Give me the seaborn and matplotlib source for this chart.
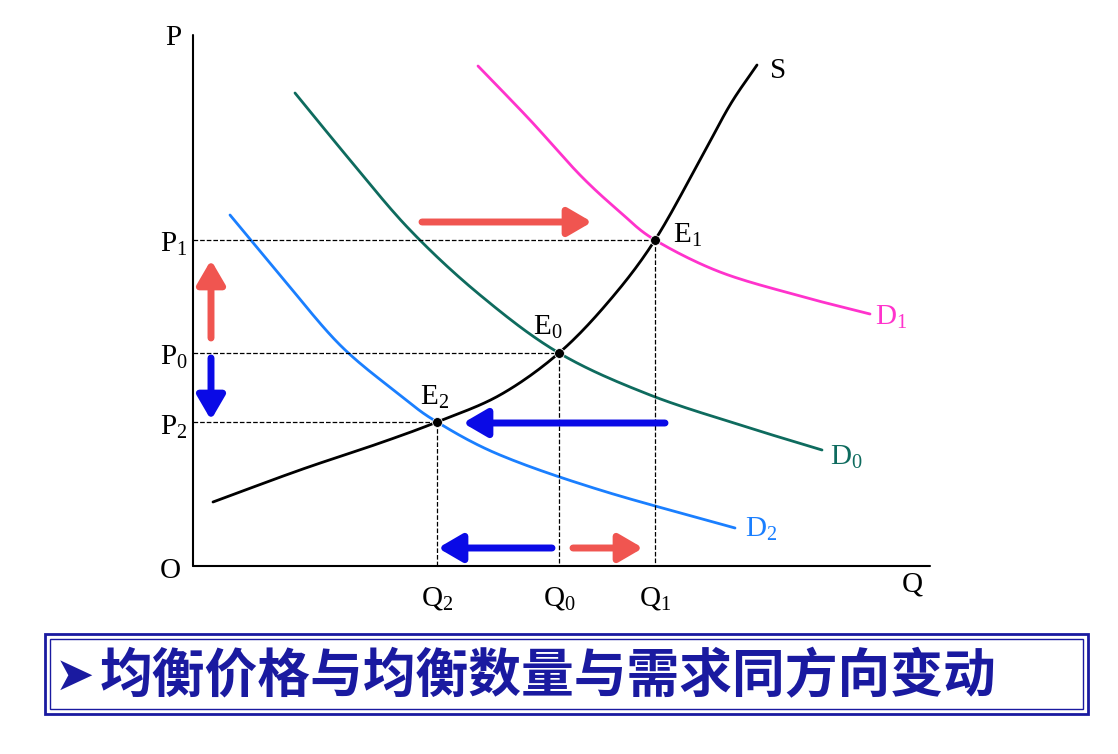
import numpy as np
import pandas as pd
import matplotlib
matplotlib.use("Agg")
import matplotlib.pyplot as plt
import seaborn as sns
from matplotlib.patches import Rectangle

# curve points (pixel space, y downward)
s_x = [213, 300, 380, 437, 500, 559, 610, 655, 700, 730, 757]
s_y = [502, 470, 443, 422, 395, 353, 300, 240, 160, 105, 65]
d0_x = [295, 350, 410, 480, 559, 650, 750, 822]
d0_y = [93, 160, 230, 295, 353, 395, 428, 450]
d1_x = [478, 530, 580, 620, 655, 720, 800, 870]
d1_y = [66, 120, 175, 212, 240, 272, 296, 314]
d2_x = [230, 280, 340, 400, 437, 500, 600, 735]
d2_y = [215, 275, 345, 395, 422, 455, 490, 528]

eq_names = ["E0", "E1", "E2"]
eq_x = [559, 655, 437]
eq_y = [353, 240, 422]
origin = (193, 566)


def smooth(xs, ys, n=20):
    p = np.column_stack([xs, ys]).astype(float)
    p = np.vstack([2 * p[0] - p[1], p, 2 * p[-1] - p[-2]])
    out = []
    for i in range(1, len(p) - 2):
        p0, p1, p2, p3 = p[i - 1], p[i], p[i + 1], p[i + 2]
        for t in np.linspace(0, 1, n, endpoint=False):
            out.append(0.5 * (2 * p1 + (-p0 + p2) * t + (2 * p0 - 5 * p1 + 4 * p2 - p3) * t**2
                              + (-p0 + 3 * p1 - 3 * p2 + p3) * t**3))
    out.append(p[-2])
    out = np.array(out)
    return pd.DataFrame({"x": out[:, 0], "y": out[:, 1]})


sns.set_theme(style="white")
plt.rcParams["font.family"] = ["Liberation Serif", "DejaVu Serif"]
plt.rcParams["text.color"] = "black"
plt.rcParams["mathtext.fontset"] = "custom"
plt.rcParams["mathtext.rm"] = "Liberation Serif"
plt.rcParams["mathtext.it"] = "Liberation Serif"
fig = plt.figure(figsize=(11.18, 7.54), dpi=100)
ax = fig.add_axes([0, 0, 1, 1])
ax.set_xlim(0, 1118)
ax.set_ylim(754, 0)
ax.axis("off")

for xs, ys, c in [(s_x, s_y, "black"), (d0_x, d0_y, "#0e6b5e"),
                  (d1_x, d1_y, "#ff33cc"), (d2_x, d2_y, "#1a7fff")]:
    sns.lineplot(data=smooth(xs, ys), x="x", y="y", sort=False, color=c, lw=2, ax=ax)

ox, oy = origin
ax.plot([ox, ox], [oy, 35], color="black", lw=1.5)
ax.plot([ox, 930], [oy, oy], color="black", lw=1.5)

for x, y in zip(eq_x, eq_y):
    ax.plot([ox, x], [y, y], ls="--", color="black", lw=0.9)
    ax.plot([x, x], [y, oy], ls="--", color="black", lw=0.9)
sns.scatterplot(x=eq_x, y=eq_y, color="black", s=50, ax=ax, zorder=5)

fs = 21
ax.text(ox - 12, 45, "P", fontsize=fs, ha="right")
ax.text(ox - 12, 578, "O", fontsize=fs, ha="right")
ax.text(912, 592, "Q", fontsize=fs, ha="center")
ax.text(770, 78, "S", fontsize=fs)
ax.text(160, 252, r"P$_\mathrm{1}$", fontsize=fs)
ax.text(160, 365, r"P$_\mathrm{0}$", fontsize=fs)
ax.text(160, 435, r"P$_\mathrm{2}$", fontsize=fs)
ax.text(437, 605, r"Q$_\mathrm{2}$", fontsize=fs, ha="center")
ax.text(559, 605, r"Q$_\mathrm{0}$", fontsize=fs, ha="center")
ax.text(655, 605, r"Q$_\mathrm{1}$", fontsize=fs, ha="center")
ax.text(533, 335, r"E$_\mathrm{0}$", fontsize=fs)
ax.text(673, 243, r"E$_\mathrm{1}$", fontsize=fs)
ax.text(420, 405, r"E$_\mathrm{2}$", fontsize=fs)
ax.text(875, 325, r"D$_\mathrm{1}$", fontsize=fs, color="#ff33cc")
ax.text(830, 465, r"D$_\mathrm{0}$", fontsize=fs, color="#0e6b5e")
ax.text(745, 537, r"D$_\mathrm{2}$", fontsize=fs, color="#1a7fff")

red, blue = "#f05550", "#0a0ae6"
arrows = [(422, 222, 592, 222, red), (211, 338, 211, 260, red), (211, 358, 211, 420, blue),
          (665, 423, 463, 423, blue), (552, 548, 438, 548, blue), (573, 548, 643, 548, red)]
for x0, y0, x1, y1, c in arrows:
    ax.annotate("", xy=(x1, y1), xytext=(x0, y0),
                arrowprops=dict(arrowstyle="-|>,head_width=0.7,head_length=1.2",
                                color=c, lw=5, shrinkA=0, shrinkB=0))

ax.add_patch(Rectangle((45, 634), 1043, 80, fill=False, ec="#1a1aa0", lw=2))
ax.add_patch(Rectangle((50, 639), 1033, 70, fill=False, ec="#1a1aa0", lw=1))
ax.text(55, 677, "➤", fontsize=34, color="#1a1aa0", va="center", family="DejaVu Sans")
ax.text(100, 677, "均衡价格与均衡数量与需求同方向变动", fontsize=38, color="#1a1aa0",
        fontweight="bold", va="center", family=["Noto Sans CJK SC", "DejaVu Sans"])

fig.savefig("out.png", dpi=100)
